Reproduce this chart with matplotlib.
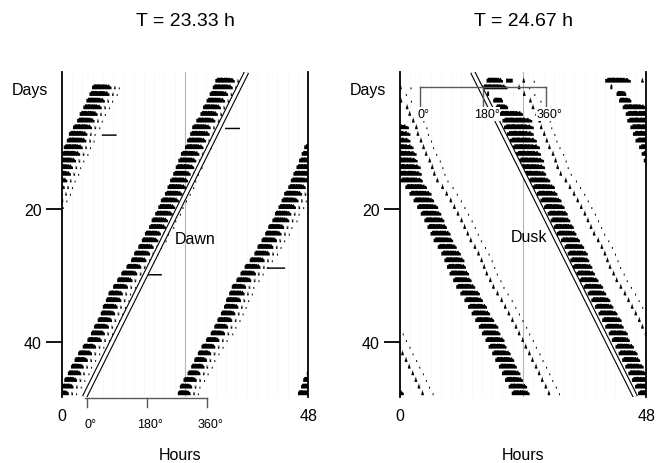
import numpy as np
import matplotlib
matplotlib.use("Agg")
import matplotlib.pyplot as plt

plt.rcParams['font.family'] = ['Liberation Sans', 'DejaVu Sans']

# ---------------- data ----------------
titles = ["T = 23.33 h", "T = 24.67 h"]
periods = [23.33, 24.67]
x_ticks = [0, 48]
y_ticks = [20, 40]
phase_labels = ["0°", "180°", "360°"]
phase_fracs = [0.0, 0.5, 1.0]

# Left panel (T = 23.33 h): activity onsets (day, clock hour), solid duration (h)
L_days = [2, 3, 4, 5, 6, 7, 8, 9, 10, 11, 12, 12, 13, 14, 15, 16, 17, 18, 19, 20,
          21, 22, 23, 24, 25, 26, 27, 28, 29, 30, 31, 32, 33, 34, 35, 36, 37, 38,
          39, 40, 41, 42, 43, 44, 45, 46, 46, 47, 48, 49]
L_onsets = [5.9, 5.4, 4.8, 4.2, 3.5, 3.0, 2.2, 1.45, 1.05, 0.4, 0.0, 23.2, 22.7,
            22.2, 21.7, 21.1, 20.6, 20.1, 19.3, 18.8, 18.2, 17.5, 17.0, 16.2, 15.6,
            14.9, 14.1, 13.5, 12.65, 11.6, 10.75, 10.0, 9.1, 8.6, 8.0, 7.6, 7.0,
            6.3, 5.7, 5.0, 4.1, 3.2, 2.5, 1.8, 1.15, 0.5, 23.7, 23.0, 22.6, 22.0]
L_durs = [3.8, 3.9, 3.6, 3.6, 3.5, 3.4, 3.7, 3.6, 3.8, 3.7, 3.6,
          3.6, 3.5, 3.6, 3.4, 3.5, 3.6, 3.4, 3.5, 3.3, 3.4,
          3.2, 3.3, 3.1, 3.2, 3.0, 3.1, 3.0, 2.9, 3.1, 3.0,
          2.9, 2.8, 3.0, 2.9, 2.8, 2.8, 2.9, 2.7, 2.8, 2.6,
          2.7, 2.6, 2.5, 2.6, 2.5, 2.6, 2.4, 2.5, 2.4]
L_extra_days = [9, 30]
L_extra_onsets = [7.8, 15.9]
L_extra_durs = [2.9, 3.6]
L_extra_heights = [0.22, 0.22]
L_tail_offsets = [0.5, 1.4]          # hours after end of solid bout
L_dawn_days = [-0.6, 48.27]
L_dawn_hours = [36.0, 4.44]
L_phase_zero = 4.9

# Right panel (T = 24.67 h)
R_days = [1, 2, 3, 4, 5, 6, 7, 8, 9, 10, 11, 12, 13, 14, 16, 17, 18, 19, 20, 21,
          22, 23, 24, 25, 26, 27, 28, 29, 30, 31, 32, 33, 34, 35, 36, 37, 38, 39,
          40, 41, 42, 43, 44, 45, 46, 47, 48, 49]
R_onsets = [16.9, 16.0, 17.0, 18.2, 18.7, 19.4, 20.0, 20.3, 20.9, 21.35, 21.9, 22.6,
            23.1, 23.5, 0.1, 1.1, 1.9, 2.7, 3.4, 4.1, 4.8, 5.35, 6.0, 6.6, 7.4, 8.1,
            8.7, 9.25, 9.7, 10.35, 11.0, 11.8, 12.6, 13.3, 14.0, 14.7, 15.4, 16.0,
            16.7, 17.3, 18.0, 18.65, 19.3, 19.9, 20.5, 21.2, 21.8, 22.4]
R_durs = [3.2, 5.0, 0.4, 1.9, 2.4, 4.6, 5.8, 5.8, 5.2, 5.3, 5.4, 4.9, 5.0, 4.8,
          4.4, 4.2, 4.3, 4.0, 4.1, 4.0, 3.9, 3.8, 3.9, 3.8,
          3.7, 3.8, 3.9, 3.7, 3.8, 3.6, 3.7, 3.8, 3.6, 3.7,
          3.6, 3.7, 3.8, 3.6, 3.7, 3.5, 3.6, 3.7, 3.5, 3.6,
          3.5, 3.6, 3.5, 3.4]
R_extra_days = [1]
R_extra_onsets = [20.7]
R_extra_durs = [1.3]
R_extra_heights = [0.6]
R_tail_offsets = [7.0, 9.2]          # hours after bout onset
R_dusk_days = [-0.6, 48.27]
R_dusk_hours = [14.2, 45.9]
R_phase_zero = 3.9

bout_shape = [0.55, 0.72, 0.75, 0.72, 0.76, 0.75, 0.7, 0.76, 0.72, 0.75, 0.7, 0.74,
              0.62, 0.7, 0.5, 0.38]
L_tail_shapes = [[0.5, 0.25, 0.45], [0.28, 0.28]]
R_tail_shapes = [[0.3, 0.55, 0.75, 0.5, 0.25], [0.28, 0.28]]

# ---------------- build activity records ----------------
BIN = 0.1
PER_DAY = int(round(24 / BIN))
N_ROWS = 48


def put(g, t0, shape_vals, n=None):
    shape_vals = np.asarray(shape_vals, float)
    if n is None:
        n = len(shape_vals)
    i0 = int(round(t0 / BIN))
    idx = (np.arange(n) * len(shape_vals)) // n
    seg = shape_vals[idx]
    g[i0:i0 + n] = np.maximum(g[i0:i0 + n], seg)


def build(days, onsets, durs, tail_offsets, tail_shapes, tail_from_end,
          ex_days, ex_on, ex_du, ex_h):
    g = np.zeros(PER_DAY * 52)
    for d, on, du in zip(days, onsets, durs):
        t0 = 24 * (d - 1) + on
        n = max(1, int(round(du / BIN)))
        put(g, t0, bout_shape, n)
        for off, shp in zip(tail_offsets, tail_shapes):
            ref = t0 + du if tail_from_end else t0
            put(g, ref + off, shp)
    for d, on, du, h in zip(ex_days, ex_on, ex_du, ex_h):
        t0 = 24 * (d - 1) + on
        put(g, t0, [h], max(1, int(round(du / BIN))))
    return g


gL = build(L_days, L_onsets, L_durs, L_tail_offsets, L_tail_shapes, True,
           L_extra_days, L_extra_onsets, L_extra_durs, L_extra_heights)
gR = build(R_days, R_onsets, R_durs, R_tail_offsets, R_tail_shapes, False,
           R_extra_days, R_extra_onsets, R_extra_durs, R_extra_heights)

# ---------------- figure ----------------
W, H = 660, 464
fig = plt.figure(figsize=(W / 100, H / 100), dpi=100)
axL = fig.add_axes([61.7 / W, 66 / H, 246.6 / W, 325 / H])
axR = fig.add_axes([399.7 / W, 66 / H, 246.6 / W, 325 / H])

edges = np.arange(0, 48 + BIN / 2, BIN)

for ax, g, title, T, line_d, line_h, p0, lab, lab_xy in (
        (axL, gL, titles[0], periods[0], L_dawn_days, L_dawn_hours, L_phase_zero,
         "Dawn", (22.05, 24.5)),
        (axR, gR, titles[1], periods[1], R_dusk_days, R_dusk_hours, R_phase_zero,
         "Dusk", (21.7, 24.2))):
    ax.set_xlim(0, 48)
    ax.set_ylim(48.27, -0.6)
    for h in range(2, 48, 2):
        if h != 24:
            ax.axvline(h, color='#ebebeb', lw=0.6, ls=(0, (1, 1.5)), zorder=0)
    ax.axvline(24, color='#b5b5b5', lw=0.8, zorder=1)
    for r in range(1, N_ROWS + 1):
        vals = g[(r - 1) * PER_DAY:(r - 1) * PER_DAY + len(edges) - 1]
        ax.stairs(r - vals, edges, baseline=np.full(len(vals), float(r)),
                  fill=True, color='black', lw=0, zorder=2)
    ax.plot(line_h, line_d, color='black', lw=3.9, solid_capstyle='butt', zorder=3)
    ax.plot(line_h, line_d, color='white', lw=2.3, solid_capstyle='butt', zorder=4)
    ax.text(lab_xy[0], lab_xy[1], lab, fontsize=11.5, ha='left', va='center', zorder=5)

    ax.spines['top'].set_visible(False)
    ax.spines['bottom'].set_visible(False)
    for s in ('left', 'right'):
        ax.spines[s].set_linewidth(1.3)
    ax.set_yticks(y_ticks)
    ax.set_yticklabels([str(v) for v in y_ticks])
    ax.tick_params(axis='y', direction='out', length=11.5, width=1.3, pad=3,
                   labelsize=11.5, right=False)
    ax.set_xticks(x_ticks)
    ax.set_xticklabels([str(v) for v in x_ticks])
    ax.tick_params(axis='x', length=0, pad=8, labelsize=11.5)
    ax.annotate("Days", xy=(0, 2.1), xycoords='data', xytext=(-9.5, 0),
                textcoords='offset points', ha='right', va='center', fontsize=11.5,
                annotation_clip=False)
    bbox = ax.get_position()
    fig.text(bbox.x0 + bbox.width / 2, 1 - 22 / H, title, ha='center', va='center',
             fontsize=14)

axL.text(0.48, -0.178, "Hours", transform=axL.transAxes, ha='center', va='center',
         fontsize=11.5)
axR.text(0.5, -0.178, "Hours", transform=axR.transAxes, ha='center', va='center',
         fontsize=11.5)

# phase scales
bc = '0.35'
T = periods[0]
tk = [L_phase_zero + f * T for f in phase_fracs]
axL.plot([L_dawn_hours[1], tk[-1]], [48.42, 48.42], color=bc, lw=1.0, clip_on=False)
for x, s in zip(tk, phase_labels):
    axL.plot([x, x], [48.42, 49.8], color=bc, lw=1.0, clip_on=False)
    axL.annotate(s, xy=(x, 52.3), xytext=(2.5, 0), textcoords='offset points',
                 ha='center', va='center', fontsize=9, annotation_clip=False)

T = periods[1]
tk = [R_phase_zero + f * T for f in phase_fracs]
axR.plot([tk[0], tk[-1]], [1.65, 1.65], color=bc, lw=1.0, zorder=6)
for x, s in zip(tk, phase_labels):
    axR.plot([x, x], [1.65, 4.45], color=bc, lw=1.0, zorder=6)
    axR.annotate(s, xy=(x, 5.7), xytext=(2.5, 0), textcoords='offset points',
                 ha='center', va='center', fontsize=9, zorder=6,
                 bbox=dict(boxstyle='square,pad=0.05', fc='white', ec='none'))

fig.savefig("out.png", dpi=100)
